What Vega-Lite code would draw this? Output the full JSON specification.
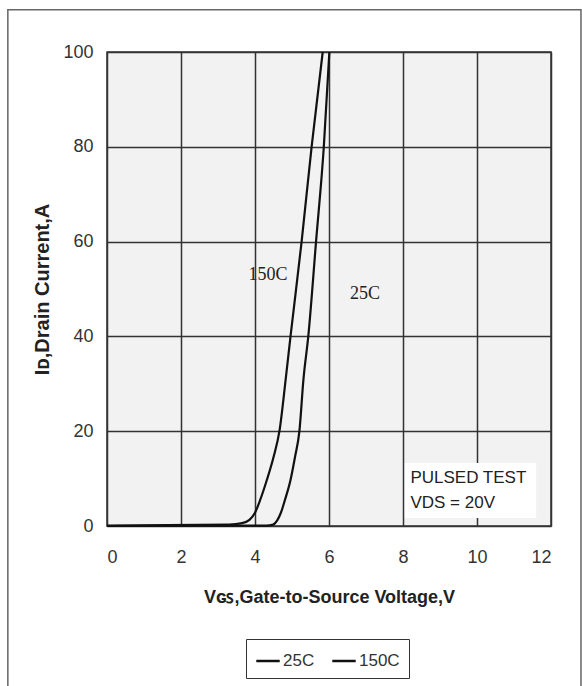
{
  "$schema": "https://vega.github.io/schema/vega-lite/v6.json",
  "width": 444,
  "height": 474,
  "autosize": "none",
  "padding": {"left": 107, "top": 52, "right": 31, "bottom": 160},
  "background": "white",
  "config": {
    "view": {"fill": "#f2f2f2", "stroke": "#333", "strokeWidth": 1.5},
    "axis": {
      "labelFont": "Liberation Sans, Arial, sans-serif",
      "labelFontSize": 18,
      "labelColor": "#333",
      "titleFont": "Liberation Sans, Arial, sans-serif",
      "titleFontSize": 18,
      "titleFontWeight": "bold",
      "titleColor": "#222",
      "gridColor": "#333",
      "gridOpacity": 1,
      "gridWidth": 1.5,
      "domain": false,
      "ticks": false
    }
  },
  "datasets": {
    "curves": [
      {"series": "25C", "v": 0, "i": 0},
      {"series": "25C", "v": 4.3, "i": 0.1},
      {"series": "25C", "v": 4.49, "i": 0.3},
      {"series": "25C", "v": 4.6, "i": 1.2},
      {"series": "25C", "v": 4.7, "i": 2.8},
      {"series": "25C", "v": 4.81, "i": 5.5},
      {"series": "25C", "v": 4.96, "i": 9.7},
      {"series": "25C", "v": 5.08, "i": 14.5},
      {"series": "25C", "v": 5.2, "i": 20},
      {"series": "25C", "v": 5.31, "i": 31},
      {"series": "25C", "v": 5.44, "i": 40},
      {"series": "25C", "v": 5.65, "i": 60},
      {"series": "25C", "v": 5.86, "i": 80},
      {"series": "25C", "v": 6.01, "i": 100},
      {"series": "150C", "v": 0, "i": 0.1},
      {"series": "150C", "v": 3.3, "i": 0.3},
      {"series": "150C", "v": 3.65, "i": 0.6},
      {"series": "150C", "v": 3.85, "i": 1.3},
      {"series": "150C", "v": 4.0, "i": 2.8},
      {"series": "150C", "v": 4.14, "i": 5.5},
      {"series": "150C", "v": 4.32, "i": 9.7},
      {"series": "150C", "v": 4.5, "i": 14.5},
      {"series": "150C", "v": 4.66, "i": 20},
      {"series": "150C", "v": 4.83, "i": 31},
      {"series": "150C", "v": 4.96, "i": 40},
      {"series": "150C", "v": 5.26, "i": 60},
      {"series": "150C", "v": 5.53, "i": 80},
      {"series": "150C", "v": 5.83, "i": 100}
    ],
    "labels": [
      {"text": "150C", "v": 4.35, "i": 53},
      {"text": "25C", "v": 6.97, "i": 49}
    ],
    "note": [
      {"text": "PULSED TEST", "v": 8.2, "i": 10.2},
      {"text": "VDS = 20V", "v": 8.2, "i": 4.8}
    ],
    "notebox": [{"v1": 8.05, "v2": 11.6, "i1": 1.7, "i2": 13.3}],
    "frame": [{"v1": -2.68, "v2": 12.81, "i1": -40, "i2": 108.9}]
  },
  "encoding": {
    "x": {"type": "quantitative"},
    "y": {"type": "quantitative"}
  },
  "layer": [
    {
      "data": {"name": "frame"},
      "mark": {"type": "rect", "fill": null, "stroke": "#666", "strokeWidth": 1.5, "clip": false},
      "encoding": {
        "x": {"field": "v1", "type": "quantitative", "scale": {"domain": [0, 12], "nice": false}},
        "x2": {"field": "v2"},
        "y": {"field": "i1", "type": "quantitative", "scale": {"domain": [0, 100], "nice": false}},
        "y2": {"field": "i2"}
      }
    },
    {
      "data": {"name": "notebox"},
      "mark": {"type": "rect", "fill": "white", "stroke": null},
      "encoding": {
        "x": {"field": "v1", "type": "quantitative"},
        "x2": {"field": "v2"},
        "y": {"field": "i1", "type": "quantitative"},
        "y2": {"field": "i2"}
      }
    },
    {
      "data": {"name": "curves"},
      "mark": {"type": "line", "strokeWidth": 2.2, "interpolate": "monotone"},
      "encoding": {
        "x": {
          "field": "v", "type": "quantitative",
          "scale": {"domain": [0, 12], "nice": false},
          "axis": {"values": [0, 2, 4, 6, 8, 10, 12], "labelPadding": 22, "title": "Vɢꜱ,Gate-to-Source Voltage,V", "titlePadding": 22}
        },
        "y": {
          "field": "i", "type": "quantitative",
          "scale": {"domain": [0, 100], "nice": false},
          "axis": {"values": [0, 20, 40, 60, 80, 100], "labelPadding": 14, "title": "Iᴅ,Drain  Current,A", "titlePadding": 10, "titleFontSize": 20}
        },
        "color": {
          "field": "series", "type": "nominal",
          "scale": {"domain": ["25C", "150C"], "range": ["#111", "#111"]},
          "legend": {
            "orient": "none",
            "legendX": 139,
            "legendY": 587,
            "direction": "horizontal",
            "title": null,
            "symbolType": "stroke",
            "symbolStrokeWidth": 2.5,
            "symbolSize": 550,
            "labelFont": "Liberation Sans, Arial, sans-serif",
            "labelFontSize": 17,
            "labelColor": "#333",
            "strokeColor": "#333",
            "padding": 9,
            "columnPadding": 12,
            "labelOffset": 2
          }
        },
        "detail": {"field": "series"}
      }
    },
    {
      "data": {"name": "labels"},
      "mark": {"type": "text", "font": "Liberation Serif, Times New Roman, serif", "fontSize": 18, "color": "#222"},
      "encoding": {
        "x": {"field": "v", "type": "quantitative"},
        "y": {"field": "i", "type": "quantitative"},
        "text": {"field": "text"}
      }
    },
    {
      "data": {"name": "note"},
      "mark": {"type": "text", "align": "left", "font": "Liberation Sans, Arial, sans-serif", "fontSize": 17, "color": "#222"},
      "encoding": {
        "x": {"field": "v", "type": "quantitative"},
        "y": {"field": "i", "type": "quantitative"},
        "text": {"field": "text"}
      }
    }
  ]
}
